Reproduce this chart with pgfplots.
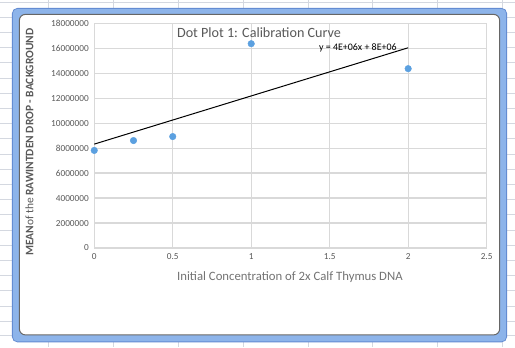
\documentclass[border=0pt]{standalone}
\usepackage{pgfplots}
\pgfplotsset{compat=1.18}
\usepackage{fontspec}
\setmainfont{Carlito}
\definecolor{sheetgrid}{RGB}{212,216,224}
\definecolor{frameblue}{RGB}{141,180,234}
\definecolor{frameedge}{RGB}{100,140,210}
\definecolor{gridgray}{RGB}{217,217,217}
\definecolor{txtgray}{RGB}{89,89,89}
\definecolor{dotblue}{RGB}{91,160,224}
\begin{document}
\begin{tikzpicture}[x=1bp,y=1bp]
% spreadsheet background
\fill[white] (0,0) rectangle (515,347);
\foreach \c in {48,113,178,243,308,373,438,503} {\draw[sheetgrid,line width=0.8bp] (\c,0) -- (\c,347);}
\foreach \r in {2,17,32,47,62,78,93,108,123,138,154,169,184,199,214,230,245,260,275,290,306,321,336} {\draw[sheetgrid,line width=0.8bp] (0,347-\r) -- (515,347-\r);}
% chart frame
\fill[frameblue,draw=frameedge,line width=0.8bp,rounded corners=5bp] (12,347-342) rectangle (507,347-8);
\fill[white,draw=black!60,line width=1bp,rounded corners=6bp] (19,347-335) rectangle (500,347-14);
\begin{axis}[
  at={(94bp,99bp)}, anchor=south west,
  scale only axis, width=393bp, height=225bp,
  xmin=0, xmax=2.5, ymin=0, ymax=18000000,
  xtick={0,0.5,1,1.5,2,2.5},
  xticklabels={0,0.5,1,1.5,2,2.5},
  ytick={0,2000000,4000000,6000000,8000000,10000000,12000000,14000000,16000000,18000000},
  yticklabels={0,2000000,4000000,6000000,8000000,10000000,12000000,14000000,16000000,18000000},
  scaled y ticks=false,
  grid=major,
  major grid style={gridgray,line width=1.3bp},
  axis line style={gridgray,line width=1.3bp},
  tick style={draw=none},
  ticklabel style={font=\fontsize{9.3}{11}\selectfont, text=txtgray},
  xticklabel style={yshift=-2bp},
  yticklabel style={xshift=-2bp},
  clip=false,
]
\addplot[only marks, mark=*, mark size=3.3bp, mark options={draw=dotblue, fill=dotblue}]
  coordinates {(0,7820000) (0.25,8610000) (0.5,8930000) (1,16370000) (2,14370000)};
\addplot[black, line width=1bp, no marks] coordinates {(0,8325000) (2,16045000)};
\end{axis}
% texts
\node[text=txtgray, font=\fontsize{14.2}{16}\selectfont] at (259,347-32) {Dot Plot 1: Calibration Curve};
\node[text=black, font=\fontsize{10}{12}\selectfont] at (358,347-48) {y = 4E+06x + 8E+06};
\node[text=black!55, font=\fontsize{12.8}{15}\selectfont] at (290,347-277) {Initial Concentration of 2x Calf Thymus DNA};
\node[text=txtgray, rotate=90, font=\fontsize{11.5}{13}\selectfont] at (29,347-142) {\textbf{MEAN}of the \textbf{RAWINTDEN DROP - BACKGROUND}};
\end{tikzpicture}
\end{document}
